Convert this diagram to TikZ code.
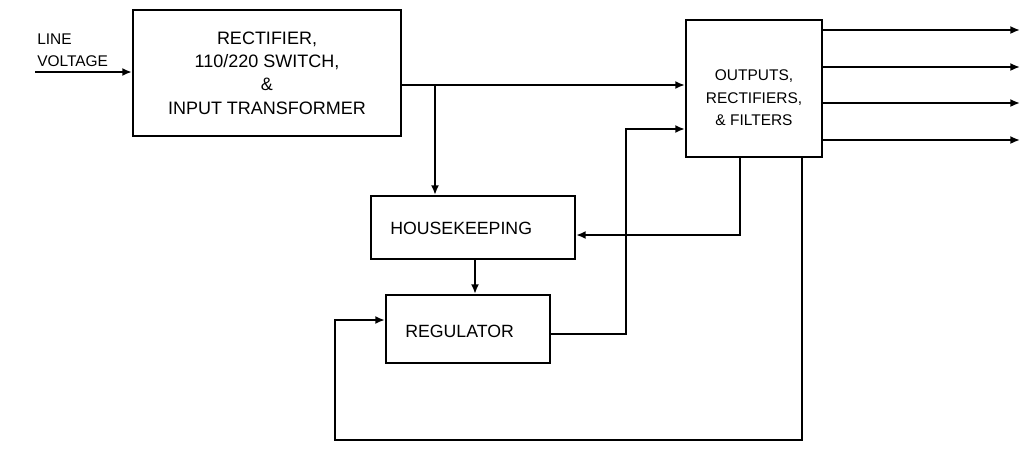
\documentclass[tikz,border=0pt]{standalone}
\usepackage{fontspec}
\setmainfont{Liberation Sans}
\usepackage{tikz}
\usetikzlibrary{arrows.meta,positioning,calc}

\begin{document}
\begin{tikzpicture}[
    x=0.025cm, y=-0.025cm,
    box/.style={draw, line width=1.5pt, align=center, inner sep=2pt, font=\fontsize{12.8}{16.5}\selectfont},
    lbl/.style={align=left, inner sep=0pt, font=\fontsize{12.6}{16.5}\selectfont},
    small/.style={font=\fontsize{11}{16}\selectfont},
    arr/.style={-{Latex[length=2.4mm,width=2mm]}, line width=1.5pt}
  ]
    \useasboundingbox (0,0) rectangle (1024,474);

    \node[box, minimum width=6.7cm, minimum height=3.15cm] (rect) at (267,73)
      {RECTIFIER,\\110/220 SWITCH,\\\&\\INPUT TRANSFORMER};
    \node[box, minimum width=3.4cm, minimum height=3.425cm] (out) at (754,88.5) {};
    \node[lbl, small, align=center] (outtxt) at (754,98) {OUTPUTS,\\RECTIFIERS,\\\& FILTERS};
    \node[box, minimum width=5.1cm, minimum height=1.575cm] (hk) at (473,227.5) {};
    \node[lbl, anchor=west] (hktxt) at (390,228) {HOUSEKEEPING};
    \node[box, minimum width=4.1cm, minimum height=1.7cm] (reg) at (468,329) {};
    \node[lbl, anchor=west] (regtxt) at (405,331) {REGULATOR};

    \node[lbl, small, anchor=south west] (lv) at (37,67) {LINE\\VOLTAGE};
    \coordinate (lvin) at (35,72);
    \coordinate (br) at (435,85);
    \coordinate (fb) at (626,334);

    \draw[arr] (lvin) -- (rect.west |- lvin);
    \draw[arr] (rect.east |- br) -- (out.west |- br);
    \draw[arr] (br) -- (br |- hk.north);
    \draw[arr] (hk.south -| 475,0) -- (reg.north -| 475,0);
    \draw[arr] (reg.east |- fb) -| (626,129) -- (out.west |- 0,129);
    \draw[arr] (out.south -| 740,0) |- (hk.east |- 0,235);
    \draw[arr] (out.south -| 802,0) |- (335,440) |- (reg.west |- 0,320);

    \foreach \y [count=\i] in {30,67,103,140} {
      \coordinate (o\i) at (1020,\y);
      \draw[arr] (out.east |- o\i) -- (o\i);
    }
  \end{tikzpicture}
\end{document}
